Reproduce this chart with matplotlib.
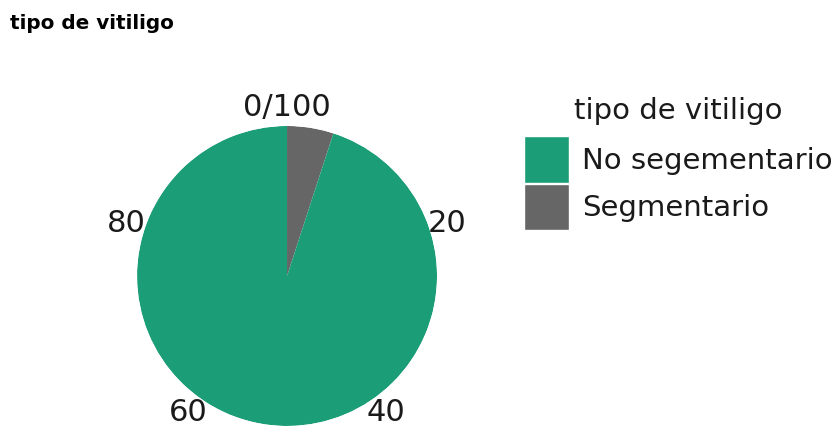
import numpy as np
import matplotlib
matplotlib.use("Agg")
import matplotlib.pyplot as plt
from matplotlib.patches import Patch, Rectangle
from matplotlib.legend_handler import HandlerPatch

# share of patients by vitiligo type (percent)
tipos = ["No segementario", "Segmentario"]
porcentaje = [95, 5]
colores = ["#1b9e77", "#666666"]
ticks = [0, 20, 40, 60, 80]
tick_labels = ["0/100", "20", "40", "60", "80"]


def key_cuadrada(legend, orig_handle, xdescent, ydescent, width, height, fontsize):
    # square key centred on the label, nearly touching the next one
    alto = fontsize * 1.6
    centro = -ydescent + height / 2
    return Rectangle((-xdescent, centro - alto / 2), width, alto)


fig = plt.figure(figsize=(8.32, 4.30), dpi=100)
fig.text(0.012, 0.945, "tipo de vitiligo", fontsize=14.4, fontweight="bold",
         ha="left", va="center")

ax = fig.add_axes([0.1647, 0.0093, 0.3606, 0.6977], projection="polar")
ax.set_theta_zero_location("N")
ax.set_theta_direction(-1)

# stack the slices clockwise starting at the top: Segmentario first
escala = 2 * np.pi / 100
inicio = 0
for tipo, val, col in reversed(list(zip(tipos, porcentaje, colores))):
    ax.bar(inicio * escala, 1, width=val * escala, bottom=0, align="edge",
           color=col, edgecolor="none")
    inicio += val

ax.set_ylim(0, 1)
ax.set_xticks(np.array(ticks) * escala)
ax.set_xticklabels(tick_labels, fontsize=22, color="#1a1a1a")
ax.tick_params(axis="x", pad=3)
ax.set_yticks([])
ax.grid(False)
ax.spines["polar"].set_visible(False)

handles = [Patch(facecolor=c, edgecolor="white", linewidth=1) for c in colores]
leg = fig.legend(handles, tipos, title="tipo de vitiligo", loc="upper left",
                 bbox_to_anchor=(0.6126, 0.809), frameon=False, fontsize=21,
                 title_fontsize=21, handlelength=1.54, handleheight=2.0,
                 handletextpad=0.45, labelspacing=0.07, borderpad=0,
                 handler_map={Patch: HandlerPatch(patch_func=key_cuadrada)})
leg._legend_box.sep = 9
for t in leg.get_texts():
    t.set_color("#1a1a1a")
leg.get_title().set_color("#1a1a1a")

fig.savefig("out.png", dpi=100)
